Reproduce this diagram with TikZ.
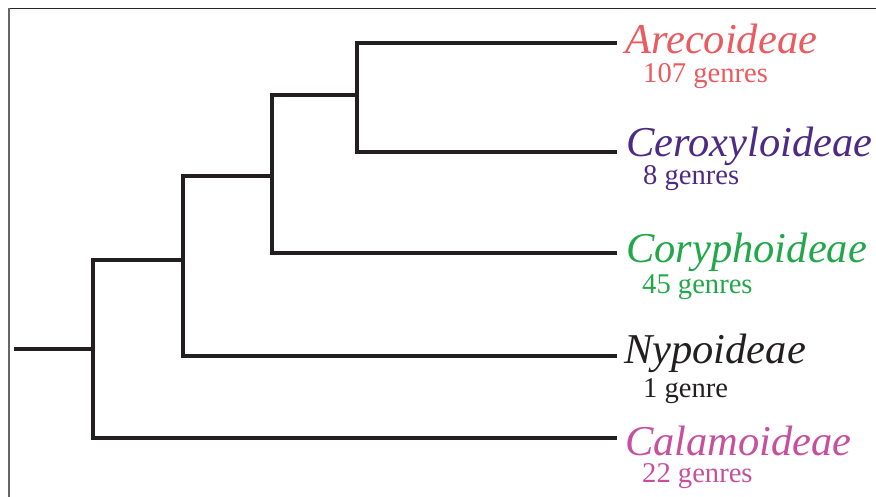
\documentclass[tikz,border=0pt]{standalone}
\usepackage{fontspec}
\setmainfont{Liberation Serif}
\definecolor{cAre}{HTML}{EB5A5F}
\definecolor{cCer}{HTML}{4E2A84}
\definecolor{cCor}{HTML}{22A84A}
\definecolor{cNyp}{HTML}{231F20}
\definecolor{cCal}{HTML}{C7509E}
\definecolor{cBr}{HTML}{231F20}
\begin{document}
\begin{tikzpicture}[x=1pt,y=-1pt,
  br/.style={line width=3.5pt, draw=cBr, line join=miter},
  taxon/.style={anchor=base west, inner sep=0pt, font=\fontsize{42.5}{42.5}\selectfont\itshape},
  count/.style={anchor=base west, inner sep=0pt, font=\fontsize{28.6}{28.6}\selectfont}]
\useasboundingbox (0,0) rectangle (876,497);
% frame
\draw[line width=1.5pt, draw=black!85] (8,8.5) -- (876,8.5);
\draw[line width=1.2pt, draw=black!60] (9,8) -- (9,497);
% tree coordinates
\coordinate (root) at (14,349);
\coordinate (k1m) at (93,349);
\coordinate (k1t) at (93,260);
\coordinate (k2t) at (183,176);
\coordinate (k3t) at (272,95);
\coordinate (k4t) at (357,43);
\coordinate (tAre) at (617,43);
\coordinate (tCer) at (617,152);
\coordinate (tCor) at (617,253);
\coordinate (tNyp) at (617,356);
\coordinate (tCal) at (617,438);
% branches
\draw[br] (root) -- (k1m);
\draw[br] (tCal) -| (k1t) -| (k2t);
\draw[br] (tNyp) -| (k2t) -| (k3t);
\draw[br] (tCor) -| (k3t) -| (k4t);
\draw[br] (tCer) -| (k4t) -- (tAre);
% labels
\node[taxon, text=cAre] (lAre) at (625,54) {Arecoideae};
\node[count, text=cAre] (nAre) at (643,83) {107 genres};
\node[taxon, text=cCer] (lCer) at (626,157) {Ceroxyloideae};
\node[count, text=cCer] (nCer) at (643,185) {8 genres};
\node[taxon, text=cCor] (lCor) at (626,263) {Coryphoideae};
\node[count, text=cCor] (nCor) at (642,294) {45 genres};
\node[taxon, text=cNyp] (lNyp) at (624,363) {Nypoideae};
\node[count, text=cNyp] (nNyp) at (643,397) {1 genre};
\node[taxon, text=cCal] (lCal) at (625,455) {Calamoideae};
\node[count, text=cCal] (nCal) at (642,482) {22 genres};
\end{tikzpicture}
\end{document}
